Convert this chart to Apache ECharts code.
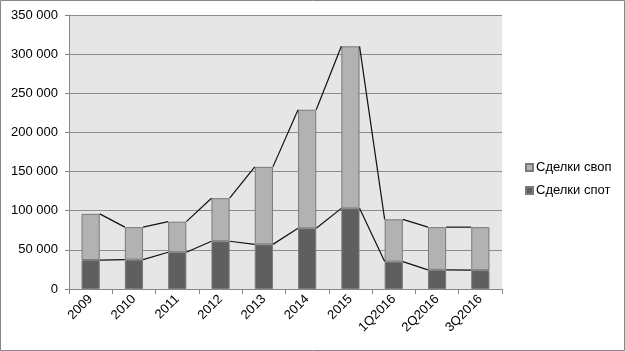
<!DOCTYPE html>
<html>
<head>
<meta charset="utf-8">
<script src="https://cdn.jsdelivr.net/npm/echarts@6/dist/echarts.min.js"></script>
<style>
  html, body { margin: 0; padding: 0; background: #fff; }
  #main { width: 625px; height: 351px; }
</style>
</head>
<body>
<div id="main"></div>
<script>
// периоды
var categories = ['2009', '2010', '2011', '2012', '2013', '2014', '2015', '1Q2016', '2Q2016', '3Q2016'];
// сделки спот (нижний сегмент)
var spotValues = [37000, 37500, 47000, 61000, 57000, 77500, 103000, 35000, 24500, 24000];
// сделки своп (верхний сегмент)
var swapValues = [59000, 41500, 39000, 55000, 99000, 151500, 207000, 54000, 54500, 55000];
var yTicks = [0, 50000, 100000, 150000, 200000, 250000, 300000, 350000];

var BAR_RATIO = 0.42;

// линии между столбцами (как "линии рядов" в Excel)
function seriesLinesData(tops) {
	var out = [];
	for (var i = 0; i < tops.length - 1; i++) {
		out.push([i, tops[i], tops[i + 1]]);
	}
	return out;
}

var spotTops = spotValues.slice();
var totalTops = spotValues.map(function (v, i) { return v + swapValues[i]; });

function renderSeriesLine(params, api) {
	var idx = api.value(0);
	var p1 = api.coord([idx, api.value(1)]);
	var p2 = api.coord([idx + 1, api.value(2)]);
	var half = api.size([1, 0])[0] * BAR_RATIO / 2;
	return {
		type: 'line',
		shape: { x1: p1[0] + half, y1: p1[1], x2: p2[0] - half, y2: p2[1] },
		style: { stroke: '#111', lineWidth: 1.2 }
	};
}

var chart = echarts.init(document.getElementById('main'));
chart.setOption({
	animation: false,
	textStyle: { fontFamily: 'Liberation Sans, Arial, sans-serif' },
	graphic: [{
		type: 'rect',
		shape: { x: 0.5, y: 0.5, width: 624, height: 350 },
		style: { fill: 'none', stroke: '#868686', lineWidth: 1 },
		silent: true
	}],
	grid: {
		left: 69, right: 123, top: 15, bottom: 62,
		show: true, backgroundColor: '#e6e6e6', borderWidth: 0
	},
	legend: {
		orient: 'vertical',
		left: 520, top: 156,
		itemWidth: 7, itemHeight: 7, itemGap: 10,
		icon: 'rect',
		textStyle: { fontSize: 13, color: '#000', padding: [0, 0, 0, -2] },
		data: ['Сделки своп', 'Сделки спот']
	},
	xAxis: {
		type: 'category',
		data: categories,
		boundaryGap: true,
		axisLine: { lineStyle: { color: '#868686' } },
		axisTick: { show: true, length: 5, lineStyle: { color: '#868686' } },
		axisLabel: { rotate: 45, fontSize: 13, color: '#000', margin: 8, interval: 0 }
	},
	yAxis: {
		type: 'value',
		min: 0, max: 350000, interval: 50000,
		axisLine: { show: true, lineStyle: { color: '#868686' } },
		axisTick: { show: true, length: 4, lineStyle: { color: '#868686' } },
		splitLine: { lineStyle: { color: '#8c8c8c' } },
		axisLabel: {
			fontSize: 13, color: '#000', margin: 11,
			formatter: function (v) {
				return String(v).replace(/\B(?=(\d{3})+(?!\d))/g, ' ');
			}
		}
	},
	series: [
		{
			name: 'Сделки спот',
			type: 'bar',
			stack: 'deals',
			barWidth: (BAR_RATIO * 100) + '%',
			data: spotValues,
			itemStyle: { color: '#5f5f5f', borderColor: '#7a7a7a', borderWidth: 1 }
		},
		{
			name: 'Сделки своп',
			type: 'bar',
			stack: 'deals',
			barWidth: (BAR_RATIO * 100) + '%',
			data: swapValues,
			itemStyle: { color: '#b2b2b2', borderColor: '#7a7a7a', borderWidth: 1 }
		},
		{
			type: 'custom',
			renderItem: renderSeriesLine,
			data: seriesLinesData(spotTops),
			z: 5, silent: true
		},
		{
			type: 'custom',
			renderItem: renderSeriesLine,
			data: seriesLinesData(totalTops),
			z: 5, silent: true
		}
	]
});
</script>
</body>
</html>
